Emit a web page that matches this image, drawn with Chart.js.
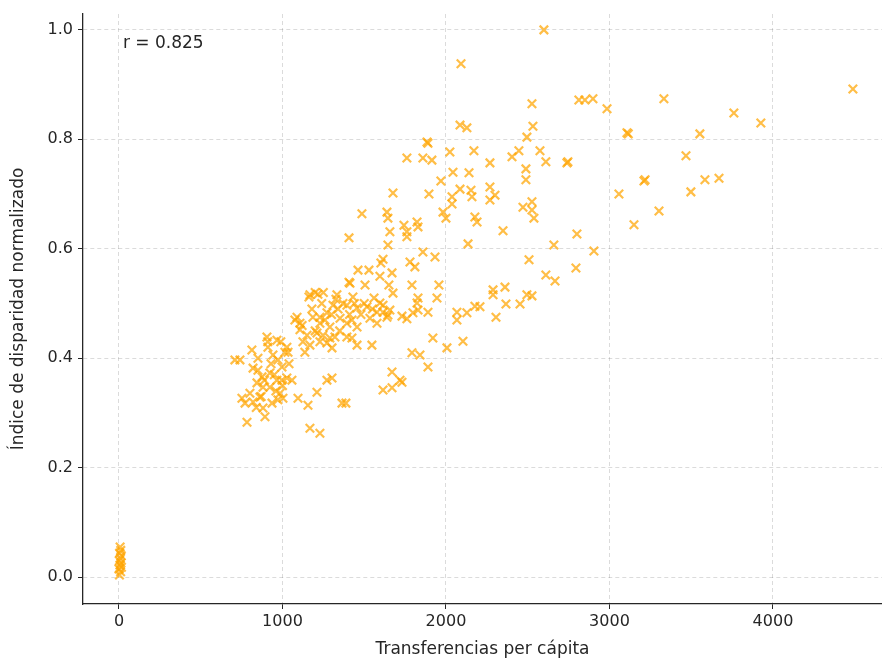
<!DOCTYPE html>
<html>
<head>
<meta charset="utf-8">
<title>Transferencias vs disparidad</title>
<script src="https://cdn.jsdelivr.net/npm/chart.js@4.4.1/dist/chart.umd.min.js"></script>
<style>
    body { margin: 0; background: #ffffff; }
    canvas { display: block; }
</style>
</head>
<body>
<canvas id="scatterChart" width="882" height="660"></canvas>
<script>
// values (x = transfers per capita, y = normalized disparity index)
const transferencias = [
    3, 10, 0, 15, 6, 12, 2, 9, 14, 4, 11, 7,
    709, 740, 752, 771, 783, 801, 813, 820, 820, 844, 850, 862, 875, 881, 881, 893,
    905, 911, 923, 923, 936, 942, 966, 966, 972, 972, 985, 997, 997, 1003, 1015, 1027,
    1027, 1034, 1058, 1076, 1089, 1095, 1107, 1107, 1125, 1137, 1150, 1156, 1162, 1168,
    1168, 1168, 1186, 1211, 1211, 1217, 1229, 1229, 1229, 1229, 1248, 1272, 1272, 1272,
    1290, 1290, 1303, 1303, 1309, 1321, 1327, 1333, 1352, 1364, 1388, 1394, 1394, 1394,
    1407, 1407, 1413, 1425, 1425, 1431, 1456, 1456, 1456, 1462, 1486, 1505, 1517, 1529,
    1535, 1547, 1578, 1578, 1596, 1596, 1602, 1615, 1615, 1615, 1615, 1639, 1639, 1645,
    1645, 1645, 1651, 1657, 1657, 1670, 1670, 1670, 1676, 1676, 1719, 1731, 1731, 1743,
    1761, 1761, 1761, 1761, 1780, 1792, 1792, 1798, 1810, 1823, 1823, 1829, 1829, 1829,
    1841, 1859, 1859, 1884, 1890, 1890, 1890, 1896, 1914, 1920, 1933, 1945, 1957, 1969,
    1982, 2000, 2006, 2024, 2037, 2037, 2043, 2067, 2067, 2086, 2086, 2092, 2104, 2128,
    2128, 2135, 2141, 2153, 2159, 2171, 2177, 2177, 2190, 2208, 2269, 2269, 2269, 2288,
    2288, 2300, 2306, 2349, 2361, 2367, 2404, 2446, 2453, 2471, 2489, 2489, 2495, 2495,
    2508, 2526, 2526, 2526, 2526, 2532, 2538, 2575, 2599, 2611, 2611, 2660, 2667, 2740,
    2746, 2795, 2801, 2813, 2850, 2899, 2905, 2985, 3058, 3107, 3115, 3150, 3211, 3218,
    3303, 3333, 3468, 3498, 3553, 3584, 3670, 3761, 3926, 4489,
    850, 890, 930, 960, 1000, 870, 910, 950, 1040, 840, 990,
    1120, 1180, 1200, 1240, 1260, 1300, 1340, 1370, 1410, 1440, 1480, 1200, 1250, 1350,
    1500, 1550, 1560
];
const disparidad = [
    0.004, 0.010, 0.015, 0.018, 0.022, 0.026, 0.030, 0.034, 0.039, 0.044, 0.049, 0.055,
    0.397, 0.397, 0.327, 0.318, 0.283, 0.336, 0.415, 0.382, 0.320, 0.355, 0.378, 0.329, 0.366, 0.347, 0.309, 0.293,
    0.439, 0.420, 0.373, 0.347, 0.318, 0.406, 0.433, 0.360, 0.397, 0.324, 0.336, 0.384, 0.360, 0.327, 0.411, 0.420,
    0.364, 0.411, 0.360, 0.470, 0.475, 0.327, 0.464, 0.452, 0.430, 0.411, 0.442, 0.314, 0.512, 0.516,
    0.424, 0.272, 0.475, 0.446, 0.338, 0.517, 0.475, 0.464, 0.430, 0.263, 0.442, 0.483, 0.428, 0.360,
    0.457, 0.437, 0.419, 0.364, 0.497, 0.439, 0.508, 0.516, 0.473, 0.318, 0.318, 0.497, 0.464, 0.439,
    0.620, 0.539, 0.537, 0.470, 0.437, 0.512, 0.492, 0.457, 0.424, 0.561, 0.664, 0.534, 0.494, 0.561,
    0.473, 0.424, 0.484, 0.464, 0.501, 0.550, 0.574, 0.581, 0.497, 0.484, 0.342, 0.667, 0.475, 0.656,
    0.607, 0.479, 0.534, 0.631, 0.488, 0.556, 0.375, 0.346, 0.702, 0.519, 0.360, 0.477, 0.356, 0.643,
    0.766, 0.631, 0.622, 0.472, 0.576, 0.534, 0.410, 0.483, 0.567, 0.649, 0.501, 0.640, 0.510, 0.488,
    0.406, 0.766, 0.594, 0.795, 0.793, 0.484, 0.384, 0.700, 0.762, 0.437, 0.585, 0.510, 0.534, 0.724,
    0.667, 0.656, 0.419, 0.777, 0.695, 0.682, 0.740, 0.484, 0.470, 0.826, 0.709, 0.938, 0.431, 0.821,
    0.483, 0.609, 0.739, 0.707, 0.695, 0.779, 0.658, 0.495, 0.649, 0.494, 0.757, 0.713, 0.689, 0.525,
    0.516, 0.698, 0.475, 0.633, 0.530, 0.499, 0.768, 0.779, 0.499, 0.676, 0.746, 0.726, 0.804, 0.516,
    0.580, 0.865, 0.686, 0.671, 0.514, 0.824, 0.656, 0.779, 1.000, 0.759, 0.552, 0.607, 0.541, 0.757,
    0.759, 0.565, 0.627, 0.872, 0.872, 0.874, 0.596, 0.856, 0.700, 0.812, 0.810, 0.644, 0.724, 0.726,
    0.669, 0.874, 0.770, 0.704, 0.810, 0.726, 0.729, 0.848, 0.830, 0.892,
    0.400, 0.360, 0.390, 0.340, 0.350, 0.330, 0.430, 0.370, 0.390, 0.310, 0.430,
    0.460, 0.490, 0.450, 0.500, 0.470, 0.480, 0.490, 0.500, 0.480, 0.500, 0.480, 0.520, 0.520, 0.450,
    0.500, 0.490, 0.510
];
const xTicks = [0, 1000, 2000, 3000, 4000];
const yTicks = [0.0, 0.2, 0.4, 0.6, 0.8, 1.0];
const rLabel = 'r = 0.825';

document.addEventListener('DOMContentLoaded', function() {
    drawScatter();
});

function drawScatter() {
    const ctx = document.getElementById('scatterChart').getContext('2d');
    const points = transferencias.map((x, i) => ({ x: x, y: disparidad[i] }));
    const textColor = '#262626';
    const gridColor = 'rgba(0, 0, 0, 0.14)';

    // r value written in the upper left corner of the axes
    const corrLabel = {
        id: 'corrLabel',
        afterDraw(chart) {
            const area = chart.chartArea;
            const c = chart.ctx;
            c.save();
            c.font = '17px "DejaVu Sans"';
            c.fillStyle = textColor;
            c.textAlign = 'left';
            c.textBaseline = 'middle';
            c.fillText(rLabel, area.left + 0.05 * (area.right - area.left), area.bottom - 0.95 * (area.bottom - area.top));
            c.restore();
        }
    };

    new Chart(ctx, {
        type: 'scatter',
        data: {
            datasets: [{
                data: points,
                pointStyle: 'crossRot',
                pointRadius: 6,
                pointHoverRadius: 6,
                borderWidth: 2.2,
                borderColor: 'rgba(255, 165, 0, 0.72)',
                backgroundColor: 'rgba(255, 165, 0, 0.72)'
            }]
        },
        options: {
            responsive: false,
            animation: false,
            layout: { autoPadding: false, padding: { top: 14, right: 0, left: 0, bottom: 0 } },
            plugins: {
                legend: { display: false },
                tooltip: { enabled: false }
            },
            scales: {
                x: {
                    type: 'linear',
                    min: -220,
                    max: 4667,
                    afterBuildTicks: scale => { scale.ticks = xTicks.map(v => ({ value: v })); },
                    afterFit: scale => {
                        scale.height = 56;
                        scale.paddingLeft = 0;
                        scale.paddingRight = 0;
                    },
                    ticks: {
                        color: textColor,
                        font: { family: 'DejaVu Sans', size: 16 },
                        padding: 3,
                        maxRotation: 0,
                        callback: value => String(value)
                    },
                    grid: {
                        color: gridColor,
                        tickColor: textColor,
                        tickLength: 5,
                        lineWidth: 1
                    },
                    border: { color: textColor, width: 1.3, dash: [4, 3] },
                    title: {
                        display: true,
                        text: 'Transferencias per cápita',
                        color: textColor,
                        font: { family: 'DejaVu Sans', size: 17 },
                        padding: { top: 0, bottom: 0 }
                    }
                },
                y: {
                    type: 'linear',
                    min: -0.049,
                    max: 1.029,
                    afterBuildTicks: scale => { scale.ticks = yTicks.map(v => ({ value: v })); },
                    afterFit: scale => {
                        scale.width = 83;
                        scale.paddingTop = 0;
                        scale.paddingBottom = 0;
                    },
                    ticks: {
                        color: textColor,
                        font: { family: 'DejaVu Sans', size: 16 },
                        padding: 5,
                        callback: value => value.toFixed(1)
                    },
                    grid: {
                        color: gridColor,
                        tickColor: textColor,
                        tickLength: 5,
                        lineWidth: 1
                    },
                    border: { color: textColor, width: 1.3, dash: [4, 3] },
                    title: {
                        display: true,
                        text: 'Índice de disparidad normalizado',
                        color: textColor,
                        font: { family: 'DejaVu Sans', size: 17 },
                        padding: { top: 8, bottom: 0 }
                    }
                }
            }
        },
        plugins: [corrLabel]
    });
}
</script>
</body>
</html>
